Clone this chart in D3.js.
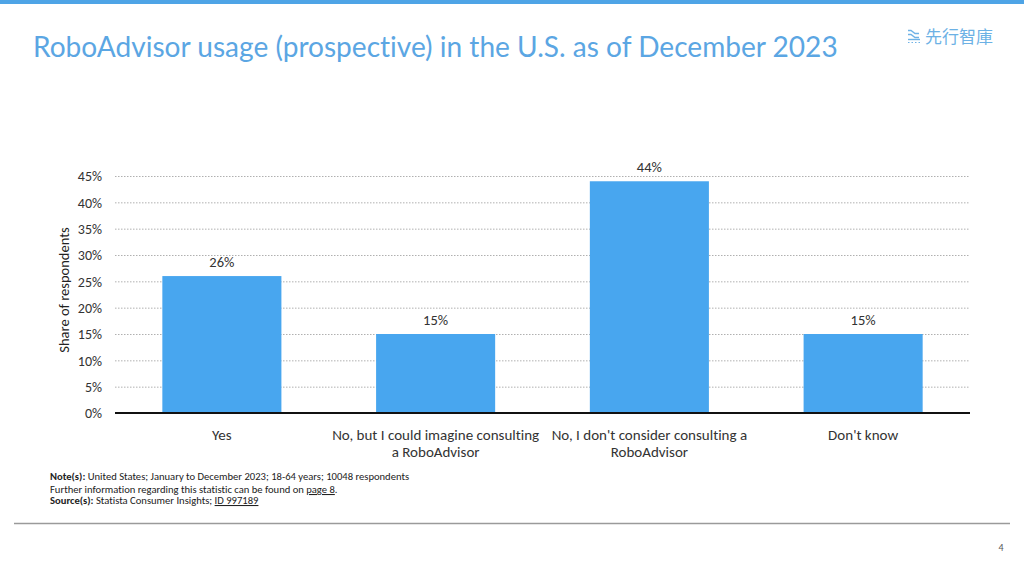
<!DOCTYPE html>
<html><head><meta charset="utf-8">
<script src="https://cdn.jsdelivr.net/npm/d3@7"></script>
<style>body{margin:0;background:#fff}svg{display:block}text{font-variant-ligatures:none}</style>
</head><body>
<svg id="c" width="1024" height="576"></svg>
<script>
const categories = ["Yes", "No, but I could imagine consulting|a RoboAdvisor", "No, I don't consider consulting a|RoboAdvisor", "Don't know"];
const values = [26, 15, 44, 15];
const yTicks = [0, 5, 10, 15, 20, 25, 30, 35, 40, 45];
const title = "RoboAdvisor usage (prospective) in the U.S. as of December 2023";
const notes = [
  ["Note(s):", " United States; January to December  2023; 18-64 years; 10048 respondents"],
  ["", "Further  information regarding this statistic can be found on ", "page 8", "."],
  ["Source(s):", " Statista Consumer Insights; ", "ID 997189"]
];

const svg = d3.select("#c");
const F = "Carlito, Calibri, Lato, 'Open Sans', sans-serif";

svg.append("rect").attr("x",0).attr("y",0).attr("width",1024).attr("height",4).attr("fill","#4ea4e6");

function fitText(sel, target){
  const w = sel.node().getComputedTextLength();
  const fs = parseFloat(sel.attr("font-size"));
  sel.attr("font-size", fs*target/w);
}

const t = svg.append("text").attr("x",33).attr("y",57).attr("font-family","Lato, sans-serif")
  .attr("font-size",24).attr("fill","#5ba6e3").text(title);
fitText(t, 805);

// logo
const lg = svg.append("g").attr("stroke","#6fb2e6").attr("fill","none").attr("stroke-width",1.4);
lg.append("path").attr("d","M908,30.5 h3 l4,3 h4 M908,34.5 h3 l4,3 h4");
lg.append("path").attr("d","M908,39.5 h12");
lg.append("path").attr("d","M908,42.5 h12").attr("stroke-dasharray","1.5,2").attr("stroke-width",1);
const lt = svg.append("text").attr("x",925).attr("y",43).attr("font-family","'Noto Sans CJK TC', sans-serif")
  .attr("font-size",16).attr("fill","#6cb1e5").text("先行智庫");
fitText(lt, 68);

const margin = {left:115, right:970, top:176, bottom:413};
const x = d3.scaleBand().domain(categories).range([margin.left, margin.right]).paddingInner(0.443).paddingOuter(0.2215);
const y = d3.scaleLinear().domain([0,45]).range([margin.bottom, margin.top]);

const grid = svg.append("g");
grid.selectAll("line").data(yTicks.filter(d=>d>0)).join("line")
  .attr("x1",margin.left).attr("x2",margin.right)
  .attr("y1",d=>y(d)+0.5).attr("y2",d=>y(d)+0.5)
  .attr("stroke","#b0b0b0").attr("stroke-width",1).attr("stroke-dasharray","1.5,1.5");

const yAxis = d3.axisLeft(y).tickValues(yTicks).tickFormat(d=>d+"%").tickSize(0).tickPadding(0);
const ya = svg.append("g").attr("transform",`translate(${102},0)`).call(yAxis);
ya.select(".domain").remove();
ya.selectAll("text").attr("font-family",F).attr("font-size",14).attr("fill","#333").attr("dy","0.35em");

svg.append("g").selectAll("rect").data(values).join("rect")
  .attr("x",(d,i)=>x(categories[i])).attr("width",x.bandwidth())
  .attr("y",d=>y(d)).attr("height",d=>y(0)-y(d)).attr("fill","#48a6ef");

svg.append("g").selectAll("text").data(values).join("text")
  .attr("x",(d,i)=>x(categories[i])+x.bandwidth()/2).attr("y",d=>y(d)-9)
  .attr("text-anchor","middle").attr("font-family",F).attr("font-size",14.5).attr("fill","#333")
  .text(d=>d+"%");

const xAxis = d3.axisBottom(x).tickSize(0).tickPadding(0).tickFormat("");
const xa = svg.append("g").attr("transform",`translate(0,${y(0)})`).call(xAxis);
xa.select(".domain").attr("stroke","#111").attr("stroke-width",2).attr("d",`M${margin.left},0H${margin.right}`);
xa.selectAll(".tick").each(function(d){
  const parts = d.split("|");
  const tx = d3.select(this).append("text").attr("text-anchor","middle").attr("font-family",F)
    .attr("font-size",15).attr("fill","#333");
  parts.forEach((p,i)=>tx.append("tspan").attr("x",0).attr("y",27+i*17).text(p));
});

svg.append("text").attr("transform","translate(69,290) rotate(-90)").attr("text-anchor","middle")
  .attr("font-family",F).attr("font-size",14.5).attr("fill","#222").text("Share of respondents");

const ny = [480, 493, 504];
notes.forEach((n,i)=>{
  const tx = svg.append("text").attr("x",50).attr("y",ny[i]).attr("font-family",F).attr("font-size",10.6).attr("fill","#222");
  if(i===1){
    tx.append("tspan").text(n[1]);
    tx.append("tspan").attr("text-decoration","underline").text(n[2]);
    tx.append("tspan").text(n[3]);
  } else {
    tx.append("tspan").attr("font-weight","bold").text(n[0]);
    tx.append("tspan").text(n[1]);
    if(n[2]) tx.append("tspan").attr("text-decoration","underline").text(n[2]);
  }
});

svg.append("line").attr("x1",14).attr("x2",1010).attr("y1",523.5).attr("y2",523.5).attr("stroke","#9a9a9a").attr("stroke-width",1.5);
svg.append("text").attr("x",1001).attr("y",551).attr("text-anchor","middle").attr("font-family",F).attr("font-size",10).attr("fill","#555").text("4");
</script>
</body></html>
